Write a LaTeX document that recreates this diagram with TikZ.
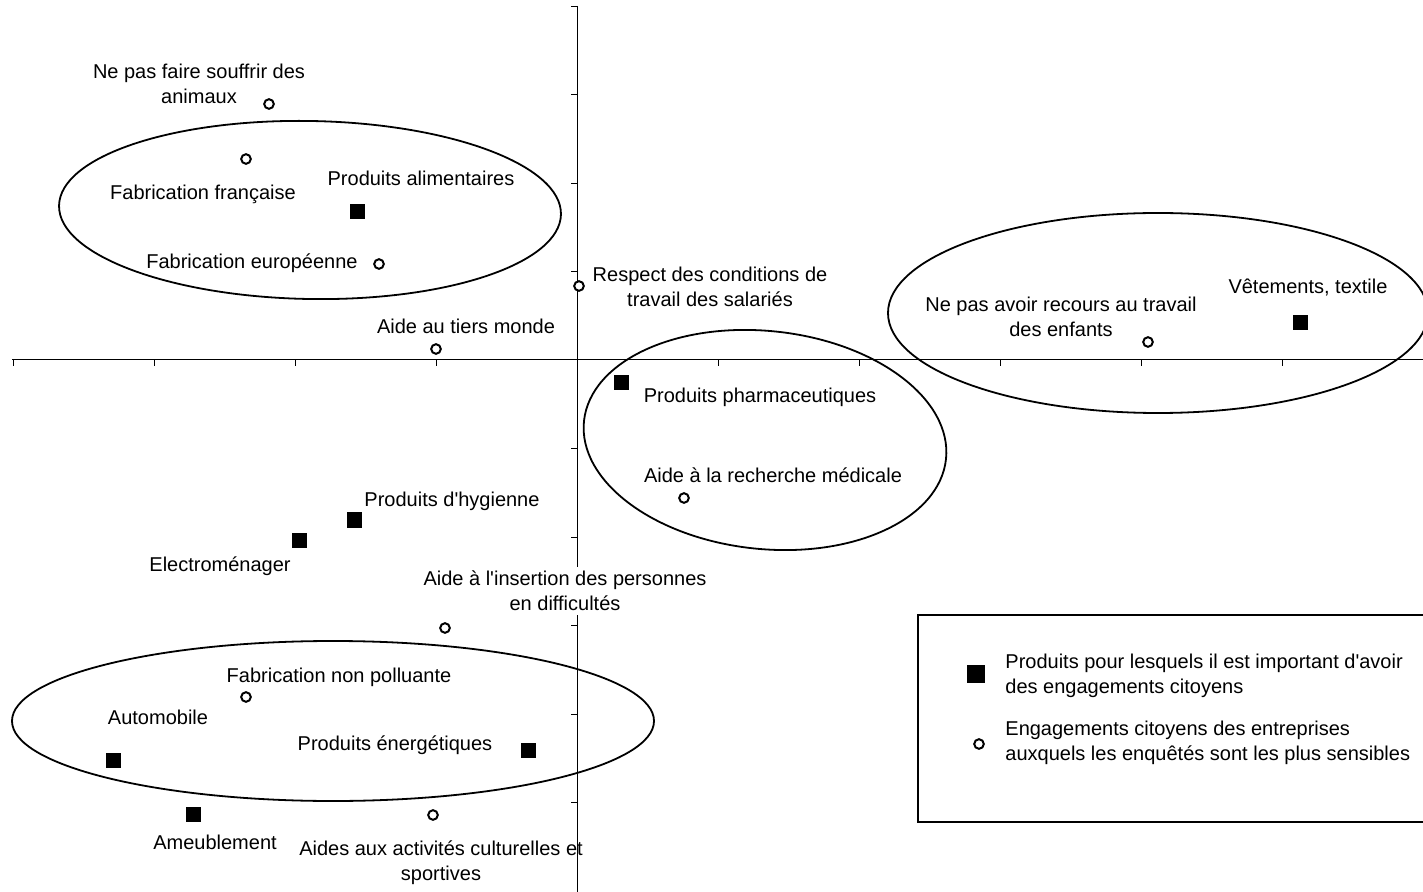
\documentclass[tikz,border=0pt]{standalone}
\usepackage{fontspec}
\setmainfont{Liberation Sans}
\usepackage{tikz}
\tikzset{
    axis-line/.style = {draw=black, line width=0.5pt},
    axis-tick/.style = {draw=black, line width=0.4pt},
    group-ellipse/.style = {draw=black, line width=0.9pt},
    legend-frame/.style = {draw=black, line width=0.7pt},
    point-circle/.style = {draw=black, fill=white, circle, line width=1pt, minimum size=4.8pt, inner sep=0pt},
    point-square/.style = {fill=black, rectangle, minimum size=7.5pt, inner sep=0pt},
    point-label/.style = {inner sep=0pt, align=center, font=\fontsize{10}{12.5}\selectfont},
}

\begin{document}
\begin{tikzpicture}[x=0.5pt, y=-0.5pt]
\useasboundingbox (0,0) rectangle (1423,892);

\draw[axis-line] (12,360) -- (1423,360);
\draw[axis-line] (577,6) -- (577,892);
\foreach \tx in {13,154,295,436,718,859,1000,1141,1282}
    \draw[axis-tick] (\tx,360) -- (\tx,366);
\foreach \ty in {6,94.5,183,271.5,448.5,537,625.5,714,802.5}
    \draw[axis-tick] (577,\ty) -- (571,\ty);

\draw[group-ellipse, rotate around={-1:(310,210)}] (310,210) ellipse [x radius=251, y radius=89];
\draw[group-ellipse] (1158,313) ellipse [x radius=270, y radius=100];
\draw[group-ellipse, rotate around={-6:(765,440)}] (765,440) ellipse [x radius=182, y radius=109];
\draw[group-ellipse] (333,721) ellipse [x radius=321, y radius=80];

\node[point-circle] (animaux) at (269,104) {};
\node[point-label] (animaux-text) at (199,84) {Ne pas faire souffrir des\\animaux};
\node[point-circle] (francaise) at (246,159) {};
\node[point-label] (francaise-text) at (203,194) {Fabrication française};
\node[point-square] (alimentaires) at (357,212) {};
\node[point-label] (alimentaires-text) at (421,178) {Produits alimentaires};
\node[point-circle] (europeenne) at (379,264) {};
\node[point-label] (europeenne-text) at (252,263) {Fabrication européenne};
\node[point-circle] (salaries) at (579,286) {};
\node[point-label] (salaries-text) at (710,287) {Respect des conditions de\\travail des salariés};
\node[point-circle] (tiers-monde) at (436,349) {};
\node[point-label] (tiers-monde-text) at (466,326) {Aide au tiers monde};
\node[point-circle] (enfants) at (1148,342) {};
\node[point-label] (enfants-text) at (1061,317) {Ne pas avoir recours au travail\\des enfants};
\node[point-square] (textile) at (1300,323) {};
\node[point-label] (textile-text) at (1308,288) {Vêtements, textile};
\node[point-square] (pharma) at (621,383) {};
\node[point-label] (pharma-text) at (760,397) {Produits pharmaceutiques};
\node[point-circle] (recherche) at (684,498) {};
\node[point-label] (recherche-text) at (773,475) {Aide à la recherche médicale};
\node[point-square] (hygiene) at (354,520) {};
\node[point-label] (hygiene-text) at (452,501) {Produits d\textquotesingle hygienne};
\node[point-square] (electro) at (299,540) {};
\node[point-label] (electro-text) at (220,566) {Electroménager};
\node[point-circle] (insertion) at (445,628) {};
\node[point-label, fill=white, inner ysep=2pt] (insertion-text) at (565,591) {Aide à l\textquotesingle insertion des personnes\\en difficultés};
\node[point-circle] (polluante) at (246,697) {};
\node[point-label] (polluante-text) at (339,677) {Fabrication non polluante};
\node[point-square] (automobile) at (113,760) {};
\node[point-label] (automobile-text) at (158,717) {Automobile};
\node[point-square] (energetiques) at (528,750) {};
\node[point-label] (energetiques-text) at (395,745) {Produits énergétiques};
\node[point-square] (ameublement) at (193,814) {};
\node[point-label] (ameublement-text) at (215,842) {Ameublement};
\node[point-circle] (culturelles) at (433,815) {};
\node[point-label] (culturelles-text) at (441,863) {Aides aux activités culturelles et\\sportives};

\draw[legend-frame] (918,615) rectangle (1430,822);
\node[point-square, minimum size=9pt] (legend-square) at (976,674) {};
\node[point-label, anchor=west, align=left] (legend-square-text) at (1005,675.5) {Produits pour lesquels il est important d\textquotesingle avoir\\des engagements citoyens};
\node[point-circle] (legend-circle) at (979,744) {};
\node[point-label, anchor=west, align=left] (legend-circle-text) at (1005,743) {Engagements citoyens des entreprises\\auxquels les enquêtés sont les plus sensibles};
\end{tikzpicture}
\end{document}
